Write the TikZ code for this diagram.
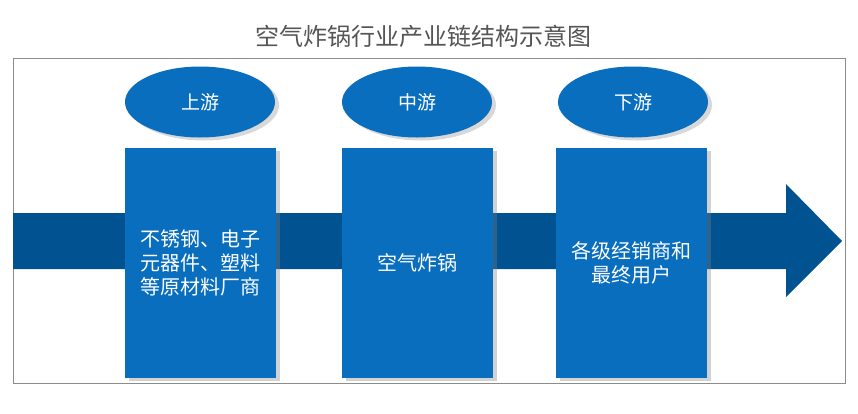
\documentclass[tikz,border=0pt]{standalone}
\usepackage{fontspec}
\newfontfamily\cjk{Noto Sans CJK SC}
\usetikzlibrary{shadows,shapes.geometric}
\definecolor{boxblue}{RGB}{10,110,190}
\definecolor{arrowblue}{RGB}{0,82,145}
\definecolor{titlegray}{RGB}{85,85,85}
\definecolor{framegray}{RGB}{140,140,140}
\begin{document}
\begin{tikzpicture}[x=1pt,y=-1pt,
  stagebox/.style={draw=none,fill=boxblue,minimum width=151pt,minimum height=230pt,
    text=white,align=center,font=\cjk\fontsize{20}{24}\selectfont,inner sep=0pt,
    drop shadow={shadow xshift=4pt,shadow yshift=-3pt,opacity=0.35,fill=gray}},
  stageoval/.style={ellipse,draw=none,fill=boxblue,minimum width=150pt,minimum height=71pt,
    text=white,font=\cjk\fontsize{19}{22}\selectfont,inner sep=0pt,
    drop shadow={shadow xshift=4pt,shadow yshift=-3pt,opacity=0.3,fill=gray}}]
\useasboundingbox (0,0) rectangle (858,413);
\fill[white] (0,0) rectangle (858,413);
\node[text=titlegray,font=\cjk\fontsize{24}{28}\selectfont] (title) at (423,36) {空气炸锅行业产业链结构示意图};
\draw[framegray,line width=0.8pt] (13,58) rectangle (845,383);
% main arrow
\fill[arrowblue] (13,213) -- (786,213) -- (786,184) -- (842,241) -- (786,297) -- (786,269) -- (13,269) -- cycle;
% stages
\node[stageoval] (o1) at (200,102) {上游};
\node[stageoval] (o2) at (417,102) {中游};
\node[stageoval] (o3) at (633,102) {下游};
\node[stagebox] (b1) at (200.5,263) {不锈钢、电子\\元器件、塑料\\等原材料厂商};
\node[stagebox] (b2) at (417.5,263) {空气炸锅};
\node[stagebox] (b3) at (631,263) {各级经销商和\\最终用户};
\end{tikzpicture}
\end{document}
